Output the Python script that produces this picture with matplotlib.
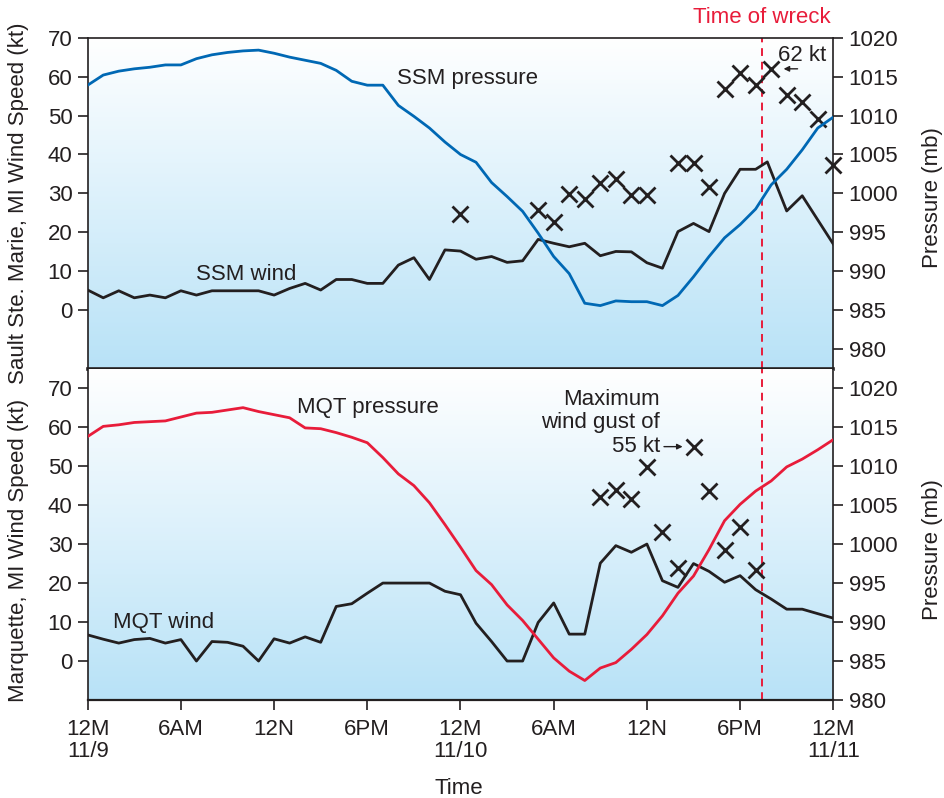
import numpy as np
import matplotlib
matplotlib.use("Agg")
import matplotlib.pyplot as plt
from matplotlib.colors import LinearSegmentedColormap
from matplotlib.transforms import blended_transform_factory

plt.rcParams['font.family'] = ['Liberation Sans', 'DejaVu Sans']
plt.rcParams['font.size'] = 16

# ---- data: hours after 12M on 11/9 ----
hours = list(range(49))

# Sault Ste. Marie sea-level pressure (mb), hourly
ssm_pressure = [1013.9, 1015.2, 1015.7, 1016.0, 1016.2, 1016.5, 1016.5, 1017.3, 1017.8, 1018.1,
                1018.3, 1018.4, 1018.0, 1017.5, 1017.1, 1016.7, 1015.8, 1014.4, 1013.9, 1013.9,
                1011.3, 1009.9, 1008.4, 1006.6, 1005.0, 1004.0, 1001.4, 999.6, 997.7, 994.9,
                991.9, 989.7, 985.9, 985.6, 986.2, 986.1, 986.1, 985.6, 986.9, 989.3,
                991.9, 994.3, 996.0, 998.0, 1001.1, 1003.1, 1005.6, 1008.4, 1009.8]

# Sault Ste. Marie sustained wind (kt)
ssm_wind_hours = list(range(44)) + [43.75, 45, 46, 48]
ssm_wind = [5.2, 3.2, 5.0, 3.2, 3.9, 3.2, 5.0, 3.9, 5.0, 5.0,
            5.0, 5.0, 3.9, 5.6, 6.9, 5.2, 7.9, 7.9, 6.9, 6.9,
            11.6, 13.5, 7.9, 15.5, 15.2, 13.1, 13.8, 12.3, 12.7, 18.2,
            17.2, 16.3, 17.2, 14.0, 15.1, 15.0, 12.2, 10.8, 20.2, 22.3,
            20.2, 30.0, 36.2, 36.2, 38.1, 25.5, 29.4, 17.0]

# Sault Ste. Marie wind gusts (kt)
ssm_gust_hours = [24, 29, 30, 31, 32, 33, 34, 35, 36, 38, 39, 40, 41, 42, 43, 44, 45, 46, 47, 48]
ssm_gust = [24.6, 25.7, 22.7, 29.8, 28.5, 32.7, 33.7, 29.6, 29.6, 37.7,
            37.7, 31.7, 56.9, 60.8, 57.9, 62.0, 55.4, 53.5, 49.2, 37.3]

# Marquette sea-level pressure (mb), hourly
mqt_pressure = [1013.8, 1015.1, 1015.3, 1015.6, 1015.7, 1015.8, 1016.3, 1016.8, 1016.9, 1017.2,
                1017.5, 1017.0, 1016.6, 1016.2, 1014.9, 1014.8, 1014.3, 1013.7, 1013.0, 1011.1,
                1009.0, 1007.5, 1005.3, 1002.5, 999.6, 996.6, 994.8, 992.2, 990.2, 987.8,
                985.4, 983.7, 982.5, 984.1, 984.8, 986.5, 988.4, 990.8, 993.7, 995.9,
                999.3, 1003.0, 1005.1, 1006.8, 1008.1, 1009.9, 1010.9, 1012.1, 1013.4]

# Marquette sustained wind (kt)
mqt_wind_hours = list(range(47)) + [48]
mqt_wind = [6.7, 5.6, 4.6, 5.5, 5.8, 4.6, 5.5, 0.0, 5.0, 4.8,
            3.8, 0.0, 5.7, 4.6, 6.2, 4.8, 14.0, 14.7, 17.4, 20.0,
            20.0, 20.0, 20.0, 17.9, 17.0, 9.7, 5.0, 0.0, 0.0, 9.9,
            14.9, 6.9, 6.9, 25.1, 29.6, 27.9, 30.0, 20.6, 18.9, 25.0,
            23.0, 20.2, 21.9, 18.3, 15.9, 13.3, 13.3, 11.0]

# Marquette wind gusts (kt)
mqt_gust_hours = [33, 34, 35, 36, 37, 38, 39, 40, 41, 42, 43]
mqt_gust = [42.1, 43.9, 41.5, 49.9, 33.2, 23.8, 55.0, 43.7, 28.5, 34.5, 23.4]

wreck_hour = 43.4
ssm_peak_gust = 62
mqt_peak_gust = 55

tick_hours = [0, 6, 12, 18, 24, 30, 36, 42, 48]
tick_labels = ['12M\n11/9', '6AM', '12N', '6PM', '12M\n11/10', '6AM', '12N', '6PM', '12M\n11/11']
wind_ticks = list(range(0, 71, 10))
pressure_ticks = list(range(980, 1021, 5))

# ---- styling ----
BLUE = '#0068b4'
RED = '#e81c3a'
INK = '#231f20'
sky = LinearSegmentedColormap.from_list('sky', ['#ffffff', '#b8e2f7'])

fig = plt.figure(figsize=(9.45, 7.98), dpi=100)
left, width = 0.0928, 0.7890
ax_top = fig.add_axes([left, 0.5380, width, 0.4148])
ax_bot = fig.add_axes([left, 0.1228, width, 0.4152])


def setup_panel(ax, wind_lim, p_lim, bottom_lw):
    grad = np.linspace(0, 1, 256).reshape(-1, 1)
    ax.imshow(grad, extent=[0, 1, 0, 1], transform=ax.transAxes, cmap=sky,
              aspect='auto', origin='upper', zorder=0, interpolation='bilinear')
    ax.set_xlim(0, 48)
    ax.set_ylim(*wind_lim)
    ax.set_yticks(wind_ticks)
    ax.tick_params(axis='y', direction='out', length=7, width=1.2, pad=4,
                   labelsize=16, colors=INK)
    for side in ('left', 'top'):
        ax.spines[side].set_linewidth(1.2)
        ax.spines[side].set_color(INK)
    ax.spines['right'].set_visible(False)
    ax.spines['bottom'].set_linewidth(bottom_lw)
    ax.spines['bottom'].set_color(INK)

    tw = ax.twinx()
    tw.set_ylim(*p_lim)
    tw.set_yticks(pressure_ticks)
    tw.tick_params(axis='y', direction='out', length=7, width=1.2, pad=4,
                   labelsize=16, colors=INK)
    for side in ('left', 'top', 'bottom'):
        tw.spines[side].set_visible(False)
    tw.spines['right'].set_linewidth(1.2)
    tw.spines['right'].set_color(INK)
    tw.set_xlim(0, 48)

    ax.axvline(wreck_hour, color=RED, lw=1.4, ls=(0, (4, 3)), zorder=1)
    return tw


tw_top = setup_panel(ax_top, (-15, 70), (977.5, 1020), 2.6)
tw_bot = setup_panel(ax_bot, (-10, 75), (980, 1022.5), 1.6)

ax_top.tick_params(axis='x', bottom=False, labelbottom=False)
tw_top.tick_params(axis='x', bottom=False, labelbottom=False)
tw_bot.tick_params(axis='x', bottom=False, labelbottom=False)
ax_bot.spines['top'].set_visible(False)
ax_bot.set_xticks(tick_hours)
ax_bot.set_xticklabels(tick_labels)
ax_bot.tick_params(axis='x', direction='out', length=7, width=1.2, pad=7,
                   labelsize=16, colors=INK)
for lab in ax_bot.get_xticklabels():
    lab.set_linespacing(1.05)

# ---- Sault Ste. Marie panel ----
ax_top.plot(ssm_wind_hours, ssm_wind, color=INK, lw=2.0, zorder=3)
ax_top.plot(ssm_gust_hours, ssm_gust, ls='none', marker='x', ms=11, mew=2.0,
            color=INK, zorder=4, clip_on=False)
tw_top.plot(hours, ssm_pressure, color=BLUE, lw=2.0, zorder=3)

ax_top.text(19.9, 58.0, 'SSM pressure', color=INK, ha='left', va='baseline')
ax_top.text(7.0, 7.8, 'SSM wind', color=INK, ha='left', va='baseline')
ax_top.text(44.45, 64.0, f'{ssm_peak_gust} kt', color=INK, ha='left', va='baseline')
ax_top.annotate('', xy=(44.8, ssm_peak_gust), xytext=(45.7, ssm_peak_gust),
                arrowprops=dict(arrowstyle='-|>', color=INK, lw=1.0,
                                mutation_scale=8, shrinkA=0, shrinkB=0))
trans = blended_transform_factory(ax_top.transData, ax_top.transAxes)
ax_top.text(wreck_hour, 1.044, 'Time of wreck', color=RED, ha='center',
            va='baseline', transform=trans, clip_on=False)

# ---- Marquette panel ----
ax_bot.plot(mqt_wind_hours, mqt_wind, color=INK, lw=2.0, zorder=3)
ax_bot.plot(mqt_gust_hours, mqt_gust, ls='none', marker='x', ms=11, mew=2.0,
            color=INK, zorder=4, clip_on=False)
tw_bot.plot(hours, mqt_pressure, color=RED, lw=2.0, zorder=3)

ax_bot.text(13.5, 63.7, 'MQT pressure', color=INK, ha='left', va='baseline')
ax_bot.text(1.6, 8.4, 'MQT wind', color=INK, ha='left', va='baseline')
ax_bot.text(36.85, 65.6, 'Maximum', color=INK, ha='right', va='baseline')
ax_bot.text(36.85, 59.7, 'wind gust of', color=INK, ha='right', va='baseline')
ax_bot.text(36.85, 53.5, f'{mqt_peak_gust} kt', color=INK, ha='right', va='baseline')
ax_bot.annotate('', xy=(38.3, mqt_peak_gust), xytext=(37.1, mqt_peak_gust),
                arrowprops=dict(arrowstyle='-|>', color=INK, lw=1.0,
                                mutation_scale=8, shrinkA=0, shrinkB=0))

# ---- axis titles ----
fig.text(0.0196, 0.7456, 'Sault Ste. Marie, MI Wind Speed (kt)', rotation=90,
         ha='center', va='center', color=INK)
fig.text(0.0196, 0.3108, 'Marquette, MI Wind Speed (kt)', rotation=90,
         ha='center', va='center', color=INK)
fig.text(0.9873, 0.7519, 'Pressure (mb)', rotation=90, ha='center', va='center', color=INK)
fig.text(0.9873, 0.3108, 'Pressure (mb)', rotation=90, ha='center', va='center', color=INK)
fig.text(459 / 945, 1 - 794 / 798, 'Time', ha='center', va='baseline', color=INK)

fig.savefig('out.png', dpi=100)
